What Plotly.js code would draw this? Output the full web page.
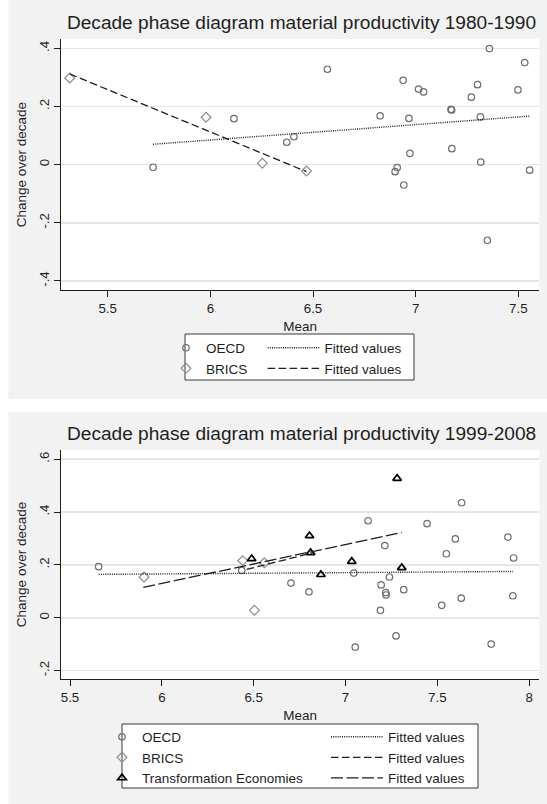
<!DOCTYPE html>
<html>
<head>
<meta charset="utf-8">
<script src="https://cdn.plot.ly/plotly-3.0.1.min.js"></script>
<style>
  html, body { margin: 0; padding: 0; background: #ffffff; }
  #chart { width: 547px; height: 804px; }
</style>
</head>
<body>
<div id="chart"></div>
<script>
// ---------- 1980-1990 ----------
const oecd80Mean   = [5.721, 6.115, 6.372, 6.407, 6.570, 6.827, 6.900, 6.910, 6.939, 6.942, 6.967, 6.972, 7.014,
                      7.038, 7.172, 7.175, 7.176, 7.271, 7.301, 7.315, 7.317, 7.349, 7.359, 7.498, 7.531, 7.555];
const oecd80Change = [-0.009, 0.158, 0.077, 0.096, 0.328, 0.168, -0.024, -0.010, 0.290, -0.070, 0.159, 0.039, 0.260,
                      0.250, 0.190, 0.188, 0.055, 0.232, 0.275, 0.164, 0.009, -0.260, 0.399, 0.257, 0.351, -0.019];
const brics80Mean   = [5.315, 5.979, 6.253, 6.468];
const brics80Change = [0.298, 0.163, 0.005, -0.022];
const oecd80FitMean   = [5.721, 7.555];
const oecd80FitValue  = [0.070, 0.167];
const brics80FitMean  = [5.315, 6.468];
const brics80FitValue = [0.312, -0.024];

// ---------- 1999-2008 ----------
const oecd99Mean   = [5.656, 6.435, 6.703, 6.801, 7.045, 7.053, 7.123, 7.190, 7.194, 7.214, 7.219, 7.221, 7.239,
                      7.275, 7.317, 7.444, 7.524, 7.549, 7.598, 7.630, 7.632, 7.793, 7.884, 7.911, 7.915];
const oecd99Change = [0.193, 0.179, 0.131, 0.098, 0.169, -0.111, 0.367, 0.028, 0.124, 0.273, 0.095, 0.086, 0.154,
                      -0.069, 0.106, 0.356, 0.047, 0.242, 0.298, 0.074, 0.435, -0.100, 0.305, 0.083, 0.226];
const brics99Mean   = [5.903, 6.440, 6.504, 6.558];
const brics99Change = [0.154, 0.216, 0.028, 0.208];
const trans99Mean   = [6.489, 6.804, 6.810, 6.866, 7.034, 7.281, 7.306];
const trans99Change = [0.223, 0.310, 0.246, 0.163, 0.213, 0.527, 0.189];
const oecd99FitMean   = [5.656, 7.911];
const oecd99FitValue  = [0.164, 0.175];
const brics99FitMean  = [6.462, 6.824];
const brics99FitValue = [0.183, 0.246];
const trans99FitMean  = [5.899, 7.306];
const trans99FitValue = [0.115, 0.322];

// ---------- ticks ----------
const xTicks80 = [5.5, 6, 6.5, 7, 7.5];
const yTicks80 = [-0.4, -0.2, 0, 0.2, 0.4];
const yTickText80 = ['-.4', '-.2', '0', '.2', '.4'];
const xTicks99 = [5.5, 6, 6.5, 7, 7.5, 8];
const yTicks99 = [-0.2, 0, 0.2, 0.4, 0.6];
const yTickText99 = ['-.2', '0', '.2', '.4', '.6'];

const titles = ['Decade phase diagram material productivity 1980-1990',
                'Decade phase diagram material productivity 1999-2008'];

// ---------- page geometry (pixels -> paper fractions) ----------
const W = 547, H = 804;
const fx = px => px / W;
const fy = py => 1 - py / H;

const INK = '#1e1e1e';
const FONT = 'Liberation Sans, Arial, sans-serif';
const oecdMarker  = {symbol: 'circle-open', size: 6.5, color: '#6f6f6f', line: {width: 1.2, color: '#6f6f6f'}};
const bricsMarker = {symbol: 'diamond-open', size: 7.5, color: '#8c8c8c', line: {width: 1.2, color: '#8c8c8c'}};
const transMarker = {symbol: 'triangle-up-open', size: 7.5, color: '#000000', line: {width: 1.7, color: '#000000'}};

const dotLine   = {color: INK, width: 1.4, dash: '1px,1.2px'};
const dashLine  = {color: INK, width: 1.3, dash: '7.5px,3.5px'};
const longLine  = {color: INK, width: 1.3, dash: '12px,3.5px'};

function pts(x, y, name, marker, xa, ya, legend) {
  return {type: 'scatter', mode: 'markers', x, y, name, marker, xaxis: xa, yaxis: ya, legend,
          hoverinfo: 'x+y'};
}
function fit(x, y, line, xa, ya, legend) {
  return {type: 'scatter', mode: 'lines', x, y, name: 'Fitted values', line, xaxis: xa, yaxis: ya, legend,
          hoverinfo: 'x+y'};
}

const data = [
  pts(oecd80Mean, oecd80Change, 'OECD', oecdMarker, 'x', 'y', 'legend'),
  pts(brics80Mean, brics80Change, 'BRICS', bricsMarker, 'x', 'y', 'legend'),
  fit(oecd80FitMean, oecd80FitValue, dotLine, 'x', 'y', 'legend2'),
  fit(brics80FitMean, brics80FitValue, dashLine, 'x', 'y', 'legend2'),

  pts(oecd99Mean, oecd99Change, 'OECD', oecdMarker, 'x2', 'y2', 'legend3'),
  pts(brics99Mean, brics99Change, 'BRICS', bricsMarker, 'x2', 'y2', 'legend3'),
  pts(trans99Mean, trans99Change, 'Transformation Economies', transMarker, 'x2', 'y2', 'legend3'),
  fit(oecd99FitMean, oecd99FitValue, dotLine, 'x2', 'y2', 'legend4'),
  fit(brics99FitMean, brics99FitValue, dashLine, 'x2', 'y2', 'legend4'),
  fit(trans99FitMean, trans99FitValue, longLine, 'x2', 'y2', 'legend4')
];

function xAxis(domain, range, ticks, anchor) {
  return {
    domain, range, anchor, tickmode: 'array', tickvals: ticks,
    ticks: 'outside', ticklen: 6, tickwidth: 1, tickcolor: INK,
    showline: true, linecolor: INK, linewidth: 1,
    showgrid: false, zeroline: false, fixedrange: true,
    tickfont: {size: 13.3, color: INK},
    title: {text: 'Mean', font: {size: 13.5, color: INK}, standoff: 6}
  };
}
function yAxis(domain, range, ticks, text, anchor) {
  return {
    domain, range, anchor, tickmode: 'array', tickvals: ticks, ticktext: text, tickangle: -90,
    ticks: 'outside', ticklen: 6, tickwidth: 1, tickcolor: INK,
    showline: true, linecolor: INK, linewidth: 1,
    showgrid: true, gridcolor: '#e6e6e6', gridwidth: 1.6,
    zeroline: false, fixedrange: true,
    tickfont: {size: 13.3, color: INK},
    title: {text: 'Change over decade', font: {size: 13.5, color: INK}, standoff: 6}
  };
}

function legendBox(x0, x1, y0, y1) {
  return {type: 'rect', xref: 'paper', yref: 'paper', x0: fx(x0), x1: fx(x1), y0: fy(y1), y1: fy(y0),
          fillcolor: '#ffffff', line: {color: '#3a3a3a', width: 1}, layer: 'below'};
}
function legendAt(xpx, ypx, itemwidth) {
  return {x: fx(xpx), xanchor: 'left', y: fy(ypx), yanchor: 'top', orientation: 'v',
          bgcolor: 'rgba(0,0,0,0)', borderwidth: 0, itemwidth,
          font: {size: 13.5, color: INK, family: FONT}, itemclick: false, itemdoubleclick: false};
}

const layout = {
  width: W, height: H,
  margin: {l: 0, r: 0, t: 0, b: 0},
  paper_bgcolor: '#f2f2f2',
  plot_bgcolor: '#ffffff',
  font: {family: FONT, color: INK},
  showlegend: true,
  title: {text: titles[0], font: {size: 19.1, color: INK}, xref: 'paper', x: fx(301.5), xanchor: 'center',
          yref: 'container', y: fy(22.5), yanchor: 'middle'},
  xaxis:  xAxis([fx(61), fx(539.3)], [5.2727, 7.602], xTicks80, 'y'),
  yaxis:  yAxis([fy(290.3), fy(39)], [-0.432, 0.432], yTicks80, yTickText80, 'x'),
  xaxis2: xAxis([fx(61), fx(539.3)], [5.451, 8.055], xTicks99, 'y2'),
  yaxis2: yAxis([fy(679), fy(450)], [-0.232, 0.6347], yTicks99, yTickText99, 'x2'),
  legend:  legendAt(166, 332.5, 30),
  legend2: legendAt(262.6, 332.5, 52),
  legend3: legendAt(102, 721.5, 30),
  legend4: legendAt(326, 721.5, 52),
  annotations: [
    {text: titles[1], xref: 'paper', yref: 'paper', x: fx(301.5), y: fy(433.5), xanchor: 'center', yanchor: 'middle',
     showarrow: false, font: {size: 19.1, color: INK}}
  ],
  shapes: [
    // white gutters framing the two grey graph regions
    {type: 'rect', xref: 'paper', yref: 'paper', x0: 0, x1: fx(8.3), y0: 0, y1: 1,
     fillcolor: '#ffffff', line: {width: 0}, layer: 'below'},
    {type: 'rect', xref: 'paper', yref: 'paper', x0: 0, x1: 1, y0: fy(411.7), y1: fy(399),
     fillcolor: '#ffffff', line: {width: 0}, layer: 'below'},
    legendBox(185, 414, 334, 380),
    legendBox(122, 478, 724, 788)
  ]
};

Plotly.newPlot('chart', data, layout, {displayModeBar: false, staticPlot: true});
</script>
</body>
</html>
